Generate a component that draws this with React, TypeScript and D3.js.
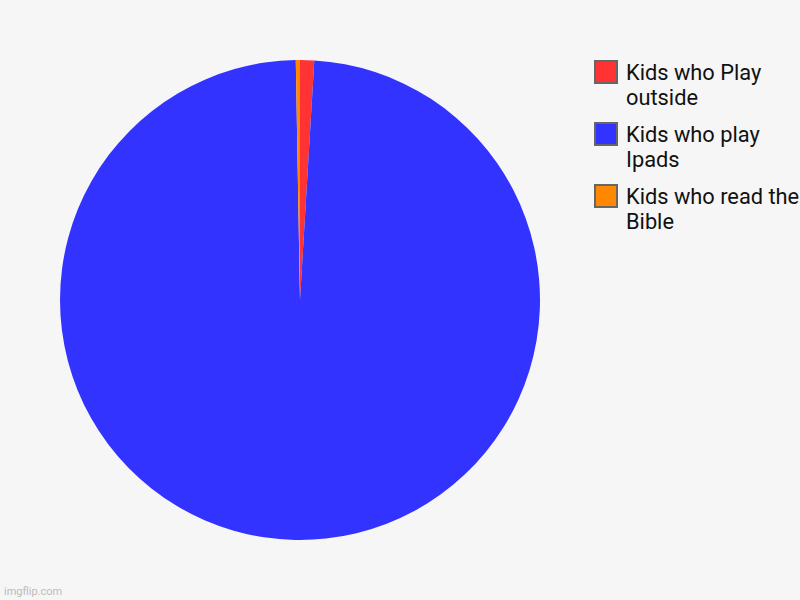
import React from 'react';
import * as d3 from 'd3';

const categories = ['Kids who Play outside', 'Kids who play Ipads', 'Kids who read the Bible'];
const values = [0.95, 98.77, 0.28];
const colors = ['#ff3333', '#3333ff', '#ff8800'];
const legendLines = [['Kids who Play', 'outside'], ['Kids who play', 'Ipads'], ['Kids who read the', 'Bible']];

const W = 800;
const H = 600;

export default function App() {
  const cx = 300;
  const cy = 300;
  const radius = 240;

  const pie = d3.pie<number>().sort(null).value((d) => d);
  const arcs = pie(values);
  const arc = d3.arc<d3.PieArcDatum<number>>().innerRadius(0).outerRadius(radius);

  const legendY = d3.scaleLinear().domain([0, 1]).range([60, 122]);

  return (
    <svg width={W} height={H} style={{ position: 'absolute', left: 0, top: 0 }}
      fontFamily="Roboto, 'Noto Sans', sans-serif">
      <rect width={W} height={H} fill="#f6f6f6" />
      <g transform={`translate(${cx},${cy})`}>
        {arcs.map((a, i) => (
          <path key={categories[i]} d={arc(a) || ''} fill={colors[i]} />
        ))}
      </g>
      {categories.map((c, i) => {
        const y = legendY(i);
        return (
          <g key={c}>
            <rect x={595} y={y + 1} width={22} height={22} fill={colors[i]} stroke="#666" strokeWidth={2} />
            {legendLines[i].map((t, j) => (
              <text key={j} x={626} y={y + 19.5 + j * 25} fontSize={21.8} fill="#111">{t}</text>
            ))}
          </g>
        );
      })}
      <text x={4} y={595} fontSize={11} fill="#bbb">imgflip.com</text>
    </svg>
  );
}
